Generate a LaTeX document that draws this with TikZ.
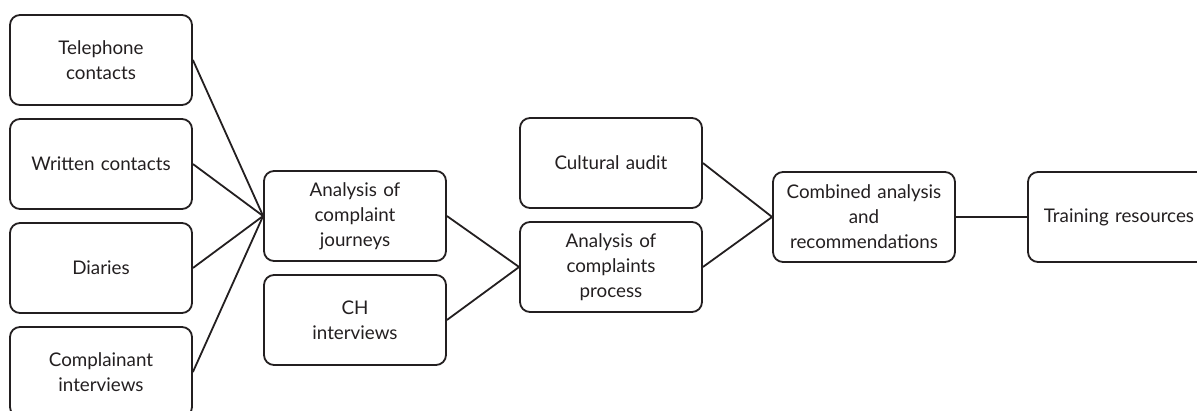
\documentclass[tikz,border=0pt]{standalone}
\usepackage{fontspec}
\setmainfont{Lato}
\usepackage{xcolor}
\definecolor{inkgrey}{HTML}{231F20}
\usepackage{tikz}
\usetikzlibrary{arrows}

\begin{document}
\begin{tikzpicture}[x=1pt,y=-1pt,line width=1.8pt,draw=inkgrey]
              \tikzstyle{stage}=[draw=inkgrey,rounded corners=10pt,minimum width=182pt,minimum height=90pt,text width=176pt,align=center,font=\fontsize{18.8}{25}\selectfont,text=inkgrey,inner sep=0pt]
              \tikzstyle{link}=[draw=inkgrey,line width=1.8pt]

              \clip (0,0) rectangle (1197,410);

              \node[stage] (tel) at (101,60)   {Telephone\\contacts};
              \node[stage] (wri) at (101,164)  {Written contacts};
              \node[stage] (dia) at (101,268)  {Diaries};
              \node[stage] (cmp) at (101,372)  {Complainant\\interviews};
              \node[stage] (jou) at (355,216)  {Analysis of\\complaint\\journeys};
              \node[stage] (chi) at (355,320)  {CH\\interviews};
              \node[stage] (cul) at (611,163)  {Cultural audit};
              \node[stage] (pro) at (611,267)  {Analysis of\\complaints\\process};
              \node[stage] (com) at (864,217)  {Combined analysis\\and\\recommendations};
              \node[stage] (tra) at (1119,217) {Training resources};

              \path (tel.east) edge [link] (jou.west)
                    (wri.east) edge [link] (jou.west)
                    (dia.east) edge [link] (jou.west)
                    (cmp.east) edge [link] (jou.west)
                    (jou.east) edge [link] (pro.west)
                    (chi.east) edge [link] (pro.west)
                    (cul.east) edge [link] (com.west)
                    (pro.east) edge [link] (com.west)
                    (com.east) edge [link] (tra.west);

       \end{tikzpicture}
\end{document}
